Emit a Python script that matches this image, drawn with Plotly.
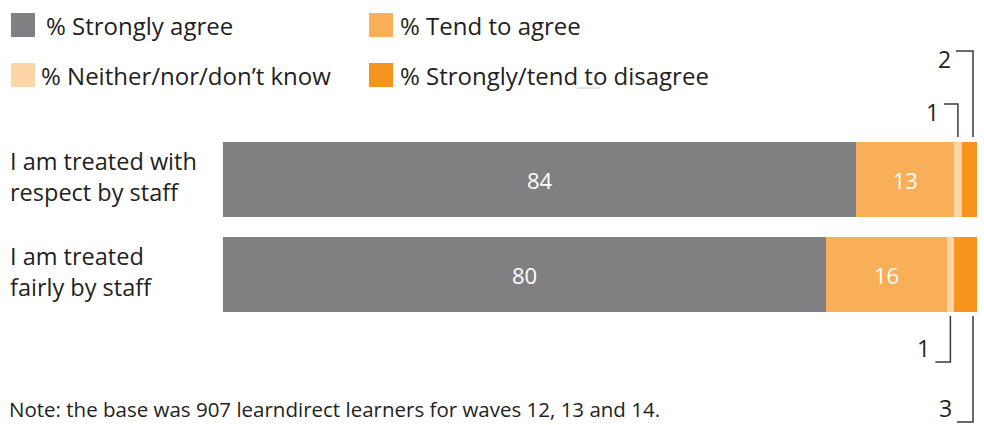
import plotly.graph_objects as go

# ---- data ----
statements = ["I am treated with<br>respect by staff", "I am treated<br>fairly by staff"]
series_names = ["% Strongly agree", "% Tend to agree",
                "% Neither/nor/don\u2019t know", "% Strongly/tend to disagree"]
strongly_agree = [84, 80]
tend_to_agree = [13, 16]
neither = [1, 1]
disagree = [2, 3]
note_text = "Note: the base was 907 learndirect learners for waves 12, 13 and 14."

colors = ["#808083", "#F9AE58", "#FDD5A6", "#F7941D"]
series_values = [strongly_agree, tend_to_agree, neither, disagree]

W, H = 984, 425
L_MARGIN, R_MARGIN = 223, 7
PLOT_W = W - L_MARGIN - R_MARGIN
PX = 100 / PLOT_W   # x data units per pixel
FONT = "Open Sans"
TEXT = "#231f20"


def paper_x(px):
    """Horizontal pixel position -> paper coordinate."""
    return (px - L_MARGIN) / PLOT_W


# vertical layout in pixel units (y axis runs top to bottom)
bar_centres = [179.5, 274.5]
bar_height = 75

fig = go.Figure()
for name, vals, col in zip(series_names, series_values, colors):
    big = min(vals) >= 10
    fig.add_trace(go.Bar(
        y=bar_centres, x=vals, orientation="h", width=bar_height,
        name=name, marker=dict(color=col, line=dict(width=0)),
        text=[str(v) for v in vals] if big else None,
        textposition="inside" if big else "none",
        insidetextanchor="middle",
        textfont=dict(family=FONT, size=22, color="white"),
        showlegend=False, hoverinfo="x+name",
    ))

annotations = []
shapes = []

# category labels on the left
for lab, yc in zip(statements, bar_centres):
    annotations.append(dict(
        x=paper_x(8), y=yc - 3, xref="paper", yref="y", text=lab,
        showarrow=False, xanchor="left", yanchor="middle", align="left",
        font=dict(family=FONT, size=23.5, color=TEXT),
    ))

# legend drawn as swatches + text in two columns
legend_pos = [(11, 25), (369, 25), (11, 75), (369, 75)]
legend_text_gap = [33, 29, 28, 29]
swatch = 24
for (lx, ly), gap, name, col in zip(legend_pos, legend_text_gap, series_names, colors):
    shapes.append(dict(type="rect", xref="paper", yref="y",
                       x0=paper_x(lx), x1=paper_x(lx + swatch),
                       y0=ly - swatch / 2, y1=ly + swatch / 2,
                       fillcolor=col, line=dict(width=0)))
    annotations.append(dict(
        x=paper_x(lx + gap), y=ly, xref="paper", yref="y", text=name,
        showarrow=False, xanchor="left", yanchor="middle",
        font=dict(family=FONT, size=24, color=TEXT),
    ))
# faint rule under "to" in the last legend entry
shapes.append(dict(type="line", xref="paper", yref="y",
                   x0=paper_x(577), x1=paper_x(600), y0=88, y1=88,
                   line=dict(color="#c8c8c8", width=1)))

# callout brackets for the small segments
def seg_end(row, idx):
    return sum(series_values[k][row] for k in range(idx + 1))

line_style = dict(color="#3a3a3a", width=1.5)
# (row, series index, elbow y, tick length px, above?)
callouts = [(0, 2, 104, 14, True), (0, 3, 51, 17, True),
            (1, 2, 362, 15, False), (1, 3, 422, 16, False)]
for row, idx, ey, tick, above in callouts:
    xc = seg_end(row, idx) - 4 * PX
    edge = bar_centres[row] + (-bar_height / 2 - 5 if above else bar_height / 2 + 4)
    xt = xc - tick * PX
    shapes.append(dict(type="path", xref="x", yref="y",
                       path=f"M {xt},{ey} L {xc},{ey} L {xc},{edge}",
                       line=line_style))
    if above:
        pos = dict(y=ey + 8, yanchor="middle")
    else:
        pos = dict(y=ey + 3, yanchor="bottom")
    annotations.append(dict(
        x=xt - 4 * PX, xref="x", yref="y", **pos,
        text=str(series_values[idx][row]), showarrow=False,
        xanchor="right", borderpad=0,
        font=dict(family=FONT, size=23, color=TEXT),
    ))

annotations.append(dict(
    x=paper_x(8), y=424, xref="paper", yref="y", text=note_text,
    showarrow=False, xanchor="left", yanchor="bottom", borderpad=0,
    font=dict(family=FONT, size=20.5, color=TEXT),
))

fig.update_layout(
    width=W, height=H, barmode="stack",
    margin=dict(l=L_MARGIN, r=R_MARGIN, t=0, b=0),
    paper_bgcolor="white", plot_bgcolor="white",
    xaxis=dict(range=[0, 100], visible=False, fixedrange=True),
    yaxis=dict(range=[H, 0], visible=False, fixedrange=True),
    shapes=shapes, annotations=annotations, showlegend=False,
)

fig.write_html("out.html")
